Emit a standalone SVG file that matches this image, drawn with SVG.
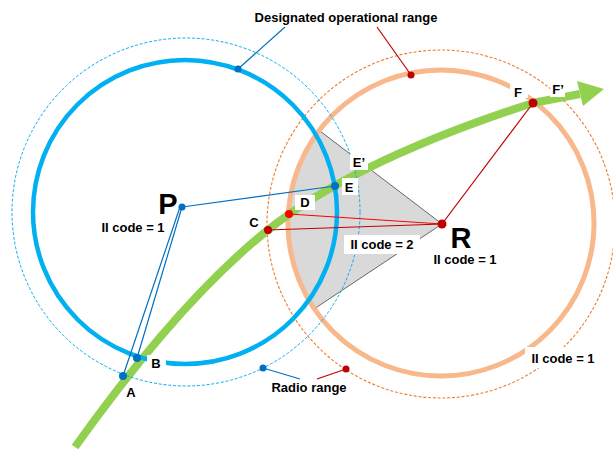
<svg xmlns="http://www.w3.org/2000/svg" width="613" height="454" viewBox="0 0 613 454">
<style>
text{font-family:"Liberation Sans",Arial,sans-serif;font-weight:bold;fill:#000;}
.lbl{font-size:13px;text-anchor:middle;}
.big{font-size:29px;text-anchor:middle;}
.bg{fill:#fff;stroke:none;}
.blueThick{fill:none;stroke:#00b0f0;stroke-width:4.5;}
.blueDash{fill:none;stroke:#00b0f0;stroke-width:1;stroke-dasharray:3 1.8;}
.orThick{fill:none;stroke:#f8b88b;stroke-width:5;}
.orDash{fill:none;stroke:#ed7d31;stroke-width:1.1;stroke-dasharray:3 1.8;}
.bl{stroke:#0070c0;stroke-width:1.2;fill:none;}
.rd{stroke:#c00000;stroke-width:1.2;fill:none;}
.rdb{stroke:#ff0000;stroke-width:1.2;fill:none;}
.bdot{fill:#0070c0;}
.rdot{fill:#c00000;}
.rbdot{fill:#ff0000;}
</style>

<g id="coverage">
<path d="M442,224 L320,131 A153,153 0 0 0 314,309 Z" fill="#d9d9d9"/>
<path d="M320,131 L442,224 L314,309" fill="none" stroke="#595959" stroke-width="0.9"/>
</g>

<g id="R-ranges">
<circle class="orDash" cx="441" cy="224" r="174"/>
<circle class="orThick" cx="441" cy="223" r="153"/>
</g>

<g id="path-arrow">
<path d="M75,447 Q180,300 268,230 T533,103 L580,94" fill="none" stroke="#92d050" stroke-width="8"/>
<polygon points="577,81 604,89 583,106" fill="#92d050"/>
</g>

<g id="P-ranges">
<circle class="blueDash" cx="186" cy="212" r="174"/>
<circle class="blueThick" cx="185" cy="212" r="152"/>
</g>

<g id="connectors">
<line class="bl" x1="182" y1="207" x2="335" y2="186"/>
<line class="bl" x1="182" y1="207" x2="137" y2="358"/>
<line class="bl" x1="180" y1="207" x2="123" y2="376"/>
<line class="rdb" x1="442" y1="224" x2="289" y2="214"/>
<line class="rd" x1="442" y1="224" x2="268" y2="230"/>
<line class="rd" x1="442" y1="224" x2="533" y2="103"/>
<line class="bl" x1="285" y1="27" x2="238" y2="69"/>
<line class="rd" x1="377" y1="27" x2="411" y2="75"/>
<line class="bl" x1="263" y1="368" x2="300" y2="379"/>
<line class="rd" x1="346" y1="369" x2="317" y2="379"/>
</g>

<g id="label-backgrounds">
<rect class="bg" x="147" y="355" width="19" height="16"/>
<rect class="bg" x="295" y="195" width="20" height="15"/>
<rect class="bg" x="342" y="178" width="16" height="17"/>
<rect class="bg" x="350" y="154" width="18" height="16"/>
<rect class="bg" x="510" y="84" width="18" height="14"/>
<rect class="bg" x="550" y="82" width="15" height="15"/>
<rect class="bg" x="344" y="235" width="76" height="19"/>
<rect class="bg" x="525" y="347" width="72" height="21"/>
</g>

<g id="node-P">
<circle class="bdot" cx="182" cy="207" r="3.5"/>
<text class="big" x="168" y="214">P</text>
<text class="lbl" x="133" y="232">II code = 1</text>
</g>

<g id="node-R">
<circle class="rdot" cx="442" cy="224" r="4.5"/>
<text class="big" x="461" y="248" font-size="30">R</text>
<text class="lbl" x="465" y="264">II code = 1</text>
<text class="lbl" x="382" y="249">II code = 2</text>
<text class="lbl" x="563" y="363">II code = 1</text>
</g>

<g id="point-A"><circle class="bdot" cx="123" cy="376" r="4"/><text class="lbl" x="131" y="397">A</text></g>
<g id="point-B"><circle class="bdot" cx="137" cy="358" r="4"/><text class="lbl" x="156" y="368">B</text></g>
<g id="point-C"><circle class="rdot" cx="268" cy="230" r="4"/><text class="lbl" x="254" y="227">C</text></g>
<g id="point-D"><circle class="rbdot" cx="289" cy="214" r="4"/><text class="lbl" x="305" y="207">D</text></g>
<g id="point-E"><circle class="bdot" cx="335" cy="186" r="4"/><text class="lbl" x="349" y="192">E</text></g>
<g id="point-E2"><text class="lbl" x="359" y="167">E’</text></g>
<g id="point-F"><circle class="rdot" cx="533" cy="103" r="4.5"/><text class="lbl" x="518" y="97">F</text></g>
<g id="point-F2"><text class="lbl" x="558" y="94">F’</text></g>

<g id="legend-designated">
<circle class="bdot" cx="238" cy="69" r="3.5"/>
<circle class="rdot" cx="411" cy="75" r="3.5"/>
<text class="lbl" x="346" y="22">Designated operational range</text>
</g>

<g id="legend-radio">
<circle class="bdot" cx="263" cy="368" r="3.5"/>
<circle class="rdot" cx="346" cy="369" r="3.5"/>
<text class="lbl" x="309" y="392">Radio range</text>
</g>
</svg>
